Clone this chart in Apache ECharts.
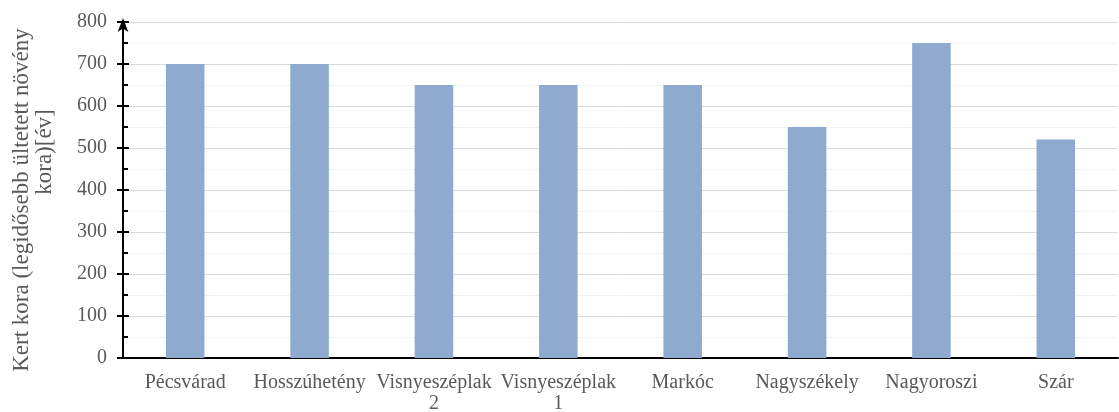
<!DOCTYPE html>
<html><head><meta charset="utf-8">
<script src="https://cdn.jsdelivr.net/npm/echarts@6/dist/echarts.min.js"></script>
<style>html,body{margin:0;padding:0;background:#fff}#c{width:1119px;height:412px}</style>
</head><body><div id="c"></div>
<script>
var categories = ['Pécsvárad','Hosszúhetény','Visnyeszéplak 2','Visnyeszéplak 1','Markóc','Nagyszékely','Nagyoroszi','Szár'];
var values = [700, 700, 650, 650, 650, 550, 750, 520];
var yTicks = [0,100,200,300,400,500,600,700,800];
var yNameLines = ['Kert kora (legidősebb ültetett növény', 'kora)[év]'];
var font = '"Liberation Serif", "Times New Roman", serif';
var chart = echarts.init(document.getElementById('c'));
chart.setOption({
  animation:false,
  grid:{left:123,right:1,top:22,bottom:54,outerBoundsMode:'none',containLabel:false},
  graphic:[
    {type:'text',x:22,y:200,rotation:Math.PI/2,style:{text:yNameLines[0],fill:'#595959',fontFamily:font,fontSize:23,align:'center',verticalAlign:'middle'}},
    {type:'text',x:45,y:152,rotation:Math.PI/2,style:{text:yNameLines[1],fill:'#595959',fontFamily:font,fontSize:23,align:'center',verticalAlign:'middle'}}
  ],
  xAxis:{type:'category',data:categories,
    axisLine:{lineStyle:{color:'#000',width:2}},
    axisTick:{show:false},
    axisLabel:{color:'#595959',fontFamily:font,fontSize:20,margin:14,lineHeight:21,interval:0,
      formatter:function(v){return v.replace(/ (\d)$/,'\n$1');}},
    splitLine:{show:false}},
  yAxis:[{type:'value',min:yTicks[0],max:yTicks[yTicks.length-1],interval:100,
    axisLine:{show:true,symbol:['none','arrow'],symbolSize:[8,14],symbolOffset:[0,4],lineStyle:{color:'#000',width:2}},
    axisTick:{show:true,length:6,lineStyle:{color:'#000',width:2}},
    axisLabel:{color:'#595959',fontFamily:font,fontSize:20,margin:16},
    splitLine:{show:true,lineStyle:{color:'#d9d9d9',width:1}},
    minorTick:{show:false,splitNumber:2},
    minorSplitLine:{show:true,lineStyle:{color:'#f2f2f2',width:1}}
  },{type:'value',min:yTicks[0],max:yTicks[yTicks.length-1],interval:100,position:'left',
    axisLine:{show:false},
    axisTick:{show:true,inside:true,length:6,lineStyle:{color:'#000',width:2}},
    minorTick:{show:true,splitNumber:2,length:5,lineStyle:{color:'#000',width:2}},
    axisLabel:{show:false},splitLine:{show:false}}],
  series:[{type:'bar',data:values,barWidth:'31%',itemStyle:{color:'#8eabcf'}}]
});
</script></body></html>
